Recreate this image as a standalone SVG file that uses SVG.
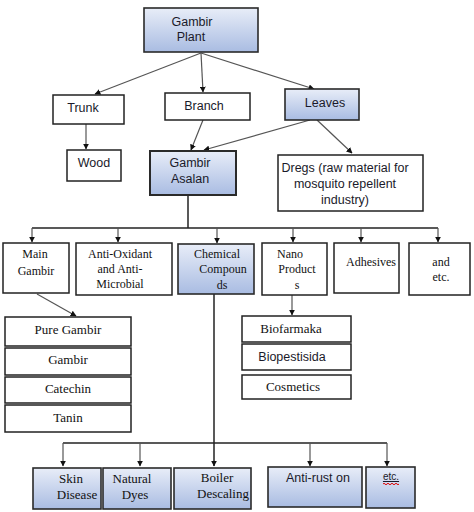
<svg xmlns="http://www.w3.org/2000/svg" width="474" height="512" viewBox="0 0 474 512">
<defs>
<linearGradient id="blue" x1="0" y1="0" x2="0" y2="1">
<stop offset="0" stop-color="#e8edf8"/>
<stop offset="1" stop-color="#a9bce2"/>
</linearGradient>
<marker id="ah" viewBox="0 0 10 10" refX="9" refY="5" markerWidth="6" markerHeight="6" markerUnits="userSpaceOnUse" orient="auto">
<path d="M0,0 L10,5 L0,10 z" fill="#111"/>
</marker>
<style>
.w{fill:#fff;stroke:#222;stroke-width:1.5}
.b{fill:url(#blue);stroke:#2a2a2a;stroke-width:1.6}
.s{font-family:"Liberation Sans",Arial,sans-serif;font-size:12.5px;fill:#1a1a2a;text-anchor:middle}
.r{font-family:"Liberation Serif","Times New Roman",serif;font-size:12px;fill:#111;text-anchor:middle}
.r13{font-family:"Liberation Serif","Times New Roman",serif;font-size:13px;fill:#111;text-anchor:middle}
.c{fill:none;stroke:#555;stroke-width:1.2}
.k{fill:none;stroke:#222;stroke-width:1.5}
</style>
</defs>
<rect width="474" height="512" fill="#fff"/>

<g id="connectors">
<line class="c" x1="201" y1="53" x2="95" y2="94" marker-end="url(#ah)"/>
<line class="c" x1="201" y1="53" x2="203" y2="92" marker-end="url(#ah)"/>
<line class="c" x1="201" y1="53" x2="314" y2="89" marker-end="url(#ah)"/>
<line class="c" x1="86" y1="124" x2="86" y2="149" marker-end="url(#ah)"/>
<line class="c" x1="203" y1="120" x2="191" y2="150" marker-end="url(#ah)"/>
<line class="c" x1="310" y1="120" x2="204" y2="150" marker-end="url(#ah)"/>
<line class="c" x1="317" y1="120" x2="352" y2="153" marker-end="url(#ah)"/>
<line class="k" x1="188" y1="195" x2="188" y2="228"/>
<line class="k" x1="32" y1="228" x2="438" y2="228"/>
<line class="c" x1="32" y1="228" x2="32" y2="242" marker-end="url(#ah)"/>
<line class="c" x1="118" y1="228" x2="118" y2="242" marker-end="url(#ah)"/>
<line class="c" x1="217" y1="228" x2="217" y2="243" marker-end="url(#ah)"/>
<line class="c" x1="293" y1="228" x2="293" y2="242" marker-end="url(#ah)"/>
<line class="c" x1="361" y1="228" x2="361" y2="242" marker-end="url(#ah)"/>
<line class="c" x1="438" y1="228" x2="438" y2="242" marker-end="url(#ah)"/>
<line class="c" x1="37" y1="294" x2="76" y2="316" marker-end="url(#ah)"/>
<line class="c" x1="292" y1="295" x2="292" y2="315" marker-end="url(#ah)"/>
<line class="k" x1="214" y1="294" x2="214" y2="466" marker-end="url(#ah)"/>
<line class="k" x1="63" y1="443" x2="387" y2="443"/>
<line class="c" x1="63" y1="443" x2="63" y2="466" marker-end="url(#ah)"/>
<line class="c" x1="140" y1="443" x2="140" y2="466" marker-end="url(#ah)"/>
<line class="c" x1="310" y1="443" x2="310" y2="466" marker-end="url(#ah)"/>
<line class="c" x1="387" y1="443" x2="387" y2="466" marker-end="url(#ah)"/>
</g>

<g id="gambir-plant"><rect class="b" x="144" y="8" width="114" height="44"/><text class="s" x="192" y="26">Gambir</text><text class="s" x="191" y="41">Plant</text></g>
<g id="trunk"><rect class="w" x="53" y="95" width="71" height="29"/><text class="s" x="83" y="112">Trunk</text></g>
<g id="branch"><rect class="w" x="165" y="93" width="85" height="27"/><text class="s" x="204" y="110">Branch</text></g>
<g id="leaves"><rect class="b" x="285" y="89" width="74" height="31"/><text class="s" x="325" y="107">Leaves</text></g>
<g id="wood"><rect class="w" x="67" y="150" width="54" height="31"/><text class="s" x="94" y="167">Wood</text></g>
<g id="gambir-asalan"><rect class="b" x="150" y="151" width="86" height="44" style="stroke-width:2"/><text class="s" x="190" y="167">Gambir</text><text class="s" x="190" y="183">Asalan</text></g>
<g id="dregs"><rect class="w" x="278" y="155" width="145" height="56"/><text class="s" x="345" y="172">Dregs (raw material for</text><text class="s" x="345" y="188">mosquito repellent</text><text class="s" x="345" y="204">industry)</text></g>

<g id="main-gambir"><rect class="w" x="3" y="243" width="66" height="50"/><text class="r" x="35" y="258">Main</text><text class="r" x="36" y="275">Gambir</text></g>
<g id="anti-oxidant"><rect class="w" x="76" y="243" width="96" height="52"/><text class="r" x="120" y="258">Anti-Oxidant</text><text class="r" x="120" y="273">and Anti-</text><text class="r" x="120" y="288">Microbial</text></g>
<g id="chemical-compounds"><rect class="b" x="178" y="244" width="76" height="50"/><text class="r" x="217" y="258">Chemical</text><text class="r" x="223" y="273">Compoun</text><text class="r" x="222" y="289">ds</text></g>
<g id="nano-products"><rect class="w" x="262" y="243" width="65" height="52"/><text class="r" x="290" y="258">Nano</text><text class="r" x="297" y="273">Product</text><text class="r" x="297" y="289">s</text></g>
<g id="adhesives"><rect class="w" x="334" y="243" width="65" height="50"/><text class="r" x="371" y="266">Adhesives</text></g>
<g id="and-etc"><rect class="w" x="409" y="243" width="61" height="52"/><text class="r" x="441" y="266">and</text><text class="r" x="441" y="281">etc.</text></g>

<g id="pure-gambir"><rect class="w" x="5" y="317" width="126" height="29"/><text class="r13" x="68" y="334">Pure Gambir</text></g>
<g id="gambir"><rect class="w" x="5" y="348" width="126" height="27"/><text class="r13" x="68" y="364">Gambir</text></g>
<g id="catechin"><rect class="w" x="5" y="377" width="126" height="26"/><text class="r13" x="68" y="393">Catechin</text></g>
<g id="tanin"><rect class="w" x="5" y="405" width="126" height="27"/><text class="r13" x="68" y="422">Tanin</text></g>

<g id="biofarmaka"><rect class="w" x="242" y="316" width="109" height="26"/><text class="r13" x="291" y="333">Biofarmaka</text></g>
<g id="biopestisida"><rect class="w" x="242" y="344" width="109" height="26"/><text class="s" x="292" y="361">Biopestisida</text></g>
<g id="cosmetics"><rect class="w" x="242" y="375" width="109" height="24"/><text class="r13" x="293" y="391">Cosmetics</text></g>

<g id="skin-disease"><rect class="b" x="33" y="468" width="68" height="41"/><text class="r13" x="71" y="483">Skin</text><text class="r13" x="77" y="499">Disease</text></g>
<g id="natural-dyes"><rect class="b" x="103" y="468" width="68" height="41"/><text class="r13" x="132" y="483">Natural</text><text class="r13" x="135" y="499">Dyes</text></g>
<g id="boiler-descaling"><rect class="b" x="174" y="468" width="77" height="41"/><text class="r13" x="217" y="482">Boiler</text><text class="r13" x="223" y="498">Descaling</text></g>
<g id="anti-rust"><rect class="b" x="268" y="467" width="94" height="40"/><text class="s" x="318" y="482">Anti-rust on</text></g>
<g id="etc"><rect class="b" x="366" y="467" width="49" height="41"/><text class="s" x="391" y="480" style="font-size:10px;text-decoration:underline">etc.</text><path d="M383,484 q1,-1.5 2,0 t2,0 t2,0 t2,0 t2,0 t2,0 t2,0 t2,0" fill="none" stroke="#d00" stroke-width="1"/></g>
</svg>
